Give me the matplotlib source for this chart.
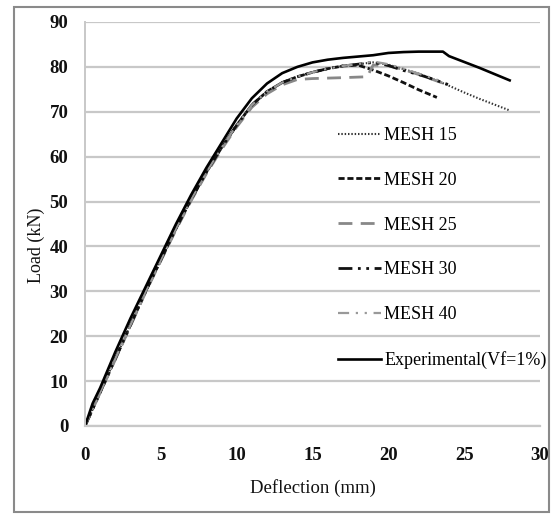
import matplotlib
matplotlib.use("Agg")
import matplotlib.pyplot as plt
from matplotlib.patches import Rectangle

plt.rcParams['font.family'] = ['Liberation Serif', 'DejaVu Serif']

# ---- data ----
sim_base_x = [0, 1, 2, 3, 4, 5, 6, 7, 8, 9, 10, 11, 12, 13, 14, 15, 16, 17, 18]
sim_base_y = [0, 7.5, 15, 22.5, 30, 37, 44, 50.5, 56.5, 62, 67, 71.5, 74.5, 76.5, 77.8, 78.8, 79.6, 80.2, 80.6]

mesh15_x = sim_base_x + [19, 20, 21, 22, 23, 24, 25, 26, 27, 28]
mesh15_y = sim_base_y + [81.0, 80.5, 79.5, 78.5, 77.2, 75.8, 74.3, 72.9, 71.6, 70.3]

mesh20_x = sim_base_x[:-1] + [18, 19, 20, 21, 22, 23.2]
mesh20_y = sim_base_y[:-1] + [80.4, 79.3, 78.0, 76.5, 74.9, 73.2]

mesh25_x = [0, 1, 2, 3, 4, 5, 6, 7, 8, 9, 10, 11, 12, 13, 14, 15, 16, 17, 18.6, 19, 20, 21, 22, 23, 24]
mesh25_y = [0, 7.4, 14.8, 22.3, 29.8, 36.8, 43.7, 50.2, 56.2, 61.6, 66.6, 71.0, 74.0, 76.0, 77.2, 77.4, 77.5, 77.6, 77.8, 80.4, 80.3, 79.4, 78.3, 77.1, 75.9]

mesh30_x = sim_base_x + [19, 20, 21, 22, 23, 24]
mesh30_y = sim_base_y + [81.0, 80.3, 79.2, 78.3, 77.2, 76.0]

mesh40_x = sim_base_x + [19, 20, 21, 22, 23.5]
mesh40_y = sim_base_y + [81.2, 80.6, 79.6, 78.5, 76.8]

exp_x = [0, 0.5, 1, 2, 3, 4, 5, 6, 7, 8, 9, 10, 11, 12, 13, 14, 15, 16, 17, 18, 19, 20, 21, 22, 23, 23.6, 24, 25, 26, 27, 28]
exp_y = [0, 5, 8.5, 16.5, 24, 31, 38, 45, 51.5, 57.5, 63, 68.5, 73, 76.3, 78.6, 80, 81, 81.6, 82, 82.3, 82.6, 83.1, 83.3, 83.4, 83.4, 83.4, 82.4, 81.1, 79.8, 78.4, 77]

labels = ["MESH 15", "MESH 20", "MESH 25", "MESH 30", "MESH 40", "Experimental(Vf=1%)"]
x_ticks = [0, 5, 10, 15, 20, 25, 30]
y_ticks = [0, 10, 20, 30, 40, 50, 60, 70, 80, 90]

# ---- figure ----
W, H = 556, 519
fig = plt.figure(figsize=(W / 100, H / 100), dpi=100)
ax = fig.add_axes([85 / W, 1 - 426 / H, (540 - 85) / W, (426 - 22) / H])

ax.plot(mesh15_x, mesh15_y, color='#333333', lw=1.5, linestyle=(0, (0.7, 0.9)), label=labels[0])
ax.plot(mesh20_x, mesh20_y, color='#111111', lw=2.0, linestyle=(0, (2.2, 1.0)), label=labels[1])
ax.plot(mesh25_x, mesh25_y, color='#888888', lw=2.0, linestyle=(0, (5, 3)), label=labels[2])
ax.plot(mesh30_x, mesh30_y, color='#111111', lw=2.0, linestyle=(0, (5, 2, 1, 2, 1, 2)), label=labels[3])
ax.plot(mesh40_x, mesh40_y, color='#999999', lw=1.6, linestyle=(0, (5, 3, 1, 3, 1, 3)), label=labels[4])
ax.plot(exp_x, exp_y, color='#000000', lw=1.9, label=labels[5])

ax.set_xlim(0, 30)
ax.set_ylim(0, 90)
ax.set_xticks(x_ticks)
ax.set_yticks(y_ticks)
ax.yaxis.grid(True, color='#c8c8c8', lw=1.6)
ax.set_axisbelow(True)
for s in ['top', 'right']:
    ax.spines[s].set_visible(False)
ax.spines['left'].set_color('#c8c8c8')
ax.spines['left'].set_linewidth(1.4)
ax.spines['bottom'].set_color('#c8c8c8')
ax.spines['bottom'].set_linewidth(1.6)
ax.tick_params(length=0, labelsize=13.5, colors='#111111')
ax.tick_params(axis='y', pad=12)
ax.tick_params(axis='x', pad=15)
for t in ax.get_xticklabels() + ax.get_yticklabels():
    t.set_fontweight('bold')

fig.text(36 / W, 1 - 245 / H, "Load (kN)", rotation=90, ha='center', va='center', fontsize=13, color='#111111')
fig.text(313 / W, 1 - 488 / H, "Deflection (mm)", ha='center', va='center', fontsize=13.5, color='#111111')

leg = ax.legend(loc='upper left', bbox_to_anchor=((338 - 85) / (540 - 85), (426 - 127) / (426 - 22)),
                frameon=False, fontsize=13, handlelength=2.4, handletextpad=0.15,
                labelspacing=1.54, borderaxespad=0, borderpad=0)

fig.patches.append(Rectangle((14 / W, 1 - 512 / H), (549 - 14) / W, (512 - 7) / H,
                             transform=fig.transFigure, fill=False, edgecolor='#8a8a8a', lw=1.5))

fig.savefig("out.png", dpi=100)
